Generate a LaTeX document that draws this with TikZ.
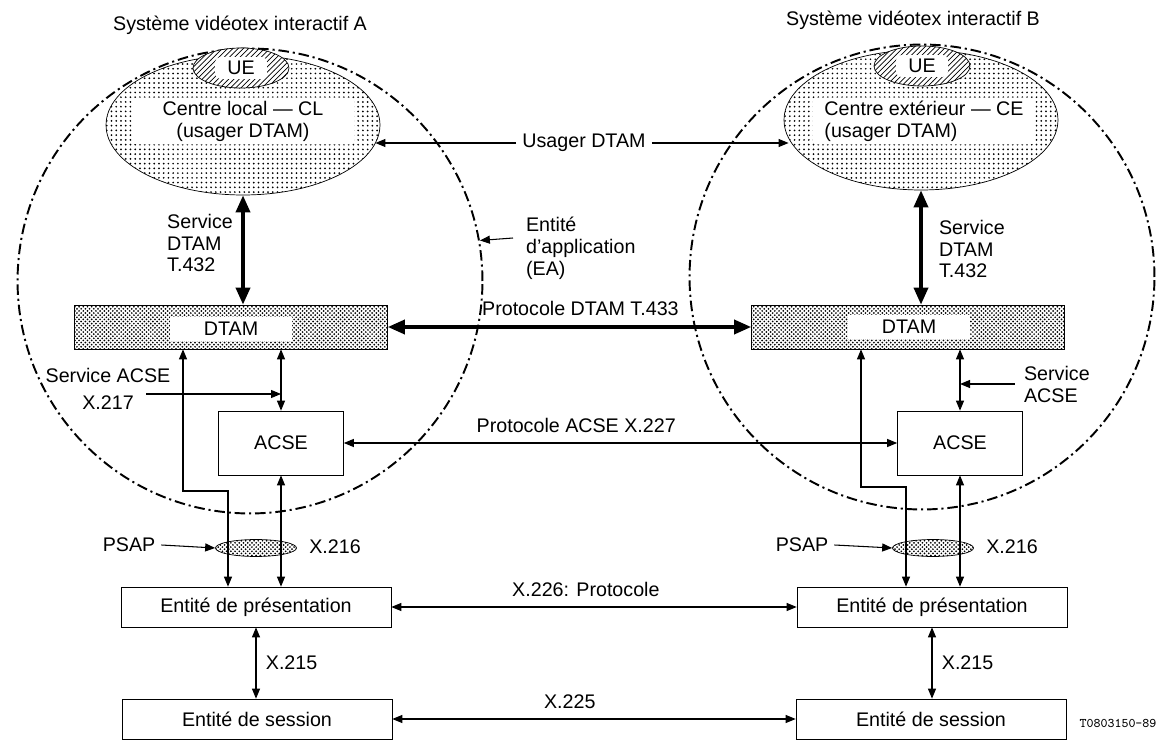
\documentclass[tikz,border=0pt]{standalone}
\usepackage{fontspec}
\setmainfont{Liberation Sans}
\usetikzlibrary{arrows.meta,positioning,patterns,patterns.meta,shapes.geometric}

\tikzdeclarepattern{name=stip,bottom left={(-.1pt,-.1pt)},top right={(2.8pt,2.8pt)},tile size={(2.7pt,2.7pt)},
  code={\fill (1.35pt,1.35pt) circle (.55pt);}}
\tikzdeclarepattern{name=checker,bottom left={(-.1pt,-.1pt)},top right={(2.5pt,2.5pt)},tile size={(2.4pt,2.4pt)},
  code={\fill (.6pt,.6pt) circle (.55pt); \fill (1.8pt,1.8pt) circle (.55pt);}}

\begin{document}
\begin{tikzpicture}[x=0.02cm,y=-0.02cm,font=\fontsize{11.2}{12.5}\selectfont,
  ea/.style={draw,circle,minimum size=9.3cm,line width=1.1pt,dash pattern=on 6pt off 2.2pt on 1.2pt off 2.2pt},
  centre/.style={draw,ellipse,minimum width=5.48cm,minimum height=2.8cm,preaction={fill=white},pattern=stip},
  ue/.style={draw,ellipse,minimum width=1.92cm,minimum height=.8cm,preaction={fill=white},pattern=north east lines},
  hole/.style={fill=white,rounded corners=3pt,inner sep=0pt,align=center},
  dtam/.style={draw,minimum width=6.26cm,minimum height=.88cm,preaction={fill=white},pattern=checker},
  box/.style={draw,fill=white,minimum width=5.4cm,minimum height=.8cm},
  acse/.style={draw,fill=white,minimum width=2.5cm,minimum height=1.28cm},
  psap/.style={draw,ellipse,minimum width=1.62cm,minimum height=.34cm,preaction={fill=white},pattern=checker},
  lbl/.style={align=left,inner sep=1pt},
  arrow/.style={-{Triangle[length=2mm,width=1.6mm]},semithick},
  both/.style={{Triangle[length=2mm,width=1.6mm]}-{Triangle[length=2mm,width=1.6mm]},semithick},
  fat/.style={{Triangle[length=3.4mm,width=2.8mm]}-{Triangle[length=3.4mm,width=2.8mm]},line width=2pt}]
\useasboundingbox (0,0) rectangle (1161,740);
% entites d'application
\node[ea] (eaA) at (250,281) {};
\node[ea] (eaB) at (922,277) {};
\node (titreA) at (240,25) {Système vidéotex interactif A};
\node (titreB) at (913,20) {Système vidéotex interactif B};
% centres
\node[centre] (cl) at (243,125) {};
\node[hole,minimum width=4.46cm,minimum height=.94cm] (cltxt) at (243,121) {Centre local — CL\\(usager DTAM)};
\node[ue] (ueA) at (241,68) {};
\node[hole,minimum width=1.04cm,minimum height=.44cm] (ueAtxt) at (241,68) {UE};
\node[centre] (ce) at (921,120) {};
\node[hole,minimum width=4.46cm,minimum height=.94cm,align=left] (cetxt) at (924,121) {Centre extérieur — CE\\(usager DTAM)};
\node[ue] (ueB) at (922,66) {};
\node[hole,minimum width=1.04cm,minimum height=.44cm] (ueBtxt) at (922,66) {UE};
% DTAM
\node[dtam] (dtamA) at (231,327) {};
\node[hole,rounded corners=0pt,minimum width=2.46cm,minimum height=.5cm] (dtamAtxt) at (231,329) {DTAM};
\node[dtam] (dtamB) at (908,327) {};
\node[hole,rounded corners=0pt,minimum width=2.46cm,minimum height=.5cm] (dtamBtxt) at (909,327) {DTAM};
% ACSE, PSAP, presentation, session
\node[acse] (acseA) at (281,443) {ACSE};
\node[acse] (acseB) at (960,443) {ACSE};
\node[psap] (psapA) at (256,548) {};
\node[psap] (psapB) at (933,548) {};
\node[box] (presA) at (256,607) {Entité de présentation};
\node[box] (presB) at (932,607) {Entité de présentation};
\node[box] (sesA) at (257,719) {Entité de session};
\node[box] (sesB) at (931,719) {Entité de session};
% usager DTAM, EA
\node (usager) at (584,143) {Usager DTAM};
\draw[arrow] (usager.west) -- (usager.west -| cl.352);
\draw[arrow] (usager.east) -- (usager.east -| ce.188);
\node[lbl,anchor=west] (eaLbl) at (524,248) {Entité\\d'application\\(EA)};
\coordinate (eaPt) at (513,238);
\draw[arrow] (eaPt) -- (eaA.10);
% services et protocoles DTAM
\draw[fat] (cl.south) -- (cl.south |- dtamA.north);
\node[lbl] (svcDA) at (200,243) {Service\\DTAM\\T.432};
\draw[fat] (ce.south) -- (ce.south |- dtamB.north);
\node[lbl,anchor=west] (svcDB) at (937,249) {Service\\DTAM\\T.432};
\draw[fat] (dtamA) -- node[above=2pt,pos=.53] {Protocole DTAM T.433} (dtamB);
% ACSE
\node[align=center] (svcAA) at (108,389) {Service ACSE\\[3pt]X.217};
\coordinate (svcAApt) at (146,394);
\draw[arrow] (svcAApt) -- (svcAApt -| acseA.north);
\node[lbl,anchor=west] (svcAB) at (1022,384) {Service\\ACSE};
\draw[arrow] ([xshift=-4pt]svcAB.west) -- (svcAB.west -| acseB.north);
\draw[both] (acseA) -- node[above=2pt,pos=.42] {Protocole ACSE X.227} (acseB);
\draw[both] (acseA.north) -- (acseA.north |- dtamA.south); \draw[both] (acseA.south) -- (acseA.south |- presA.north);
\draw[both] (acseB.north) -- (acseB.north |- dtamB.south); \draw[both] (acseB.south) -- (acseB.south |- presB.north);
\coordinate (coinA) at (228,491);
\draw[both] (dtamA.south -| 183,0) |- (coinA) -- (coinA |- presA.north);
\coordinate (coinB) at (906,487);
\draw[both] (dtamB.south -| 861,0) |- (coinB) -- (coinB |- presB.north);
% PSAP
\node (psapAl) at (129,545) {PSAP};
\draw[arrow] (psapAl.east) -- (psapA.west);
\node (x216A) at (335,547) {X.216};
\node (psapBl) at (802,545) {PSAP};
\draw[arrow] (psapBl.east) -- (psapB.west);
\node (x216B) at (1012,547) {X.216};
% presentation, session
\draw[both] (presA) -- node[above=2pt,pos=.48] {X.226: Protocole} (presB);
\draw[both] (sesA) -- node[above=2pt,pos=.44] {X.225} (sesB);
\draw[both] (presA.south) -- node[right=2pt] {X.215} (presA.south |- sesA.north);
\draw[both] (presB.south) -- node[right=2pt] {X.215} (presB.south |- sesB.north);
\node[font=\fontsize{7.5}{8}\selectfont\ttfamily] (ref) at (1118,723) {T0803150-89};
\end{tikzpicture}
\end{document}
